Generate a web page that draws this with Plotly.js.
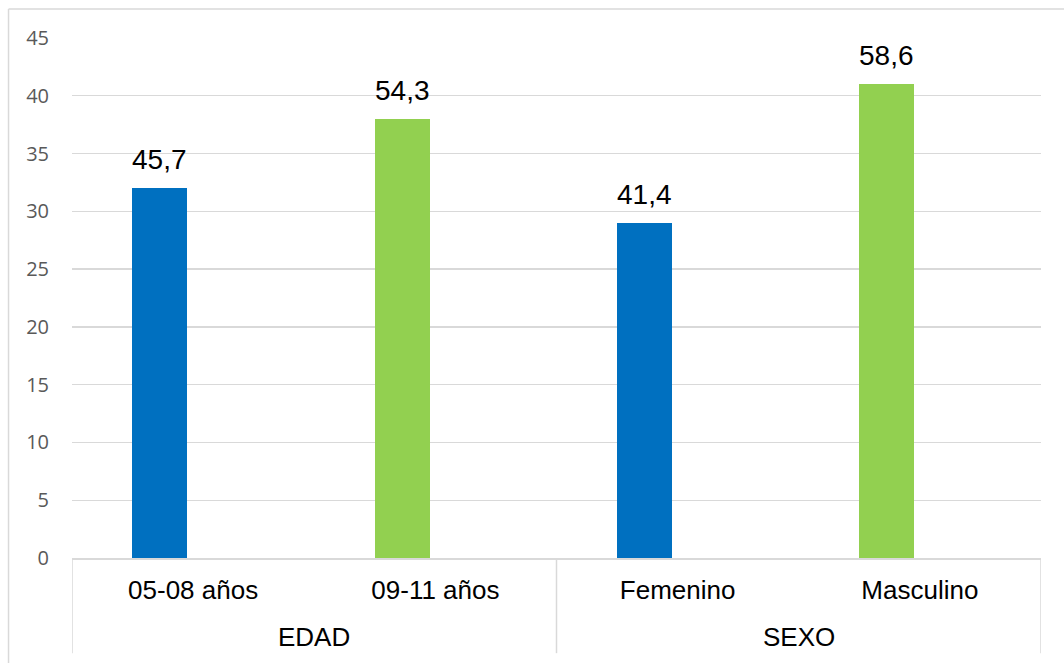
<!DOCTYPE html>
<html>
<head>
<meta charset="utf-8">
<script src="https://cdn.plot.ly/plotly-3.0.1.min.js"></script>
<style>
  html, body { margin: 0; padding: 0; background: #ffffff; }
  #chart { width: 1064px; height: 663px; }
</style>
</head>
<body>
<div id="chart"></div>
<script>
// ---- data ----
var categories = ["05-08 años", "09-11 años", "Femenino", "Masculino"];
var groups = ["EDAD", "EDAD", "SEXO", "SEXO"];
var counts = [32, 38, 29, 41];
var pctLabels = ["45,7", "54,3", "41,4", "58,6"];
var yTicks = [0, 5, 10, 15, 20, 25, 30, 35, 40, 45];

// ---- styles ----
var barColors = ["#0070C0", "#92D050", "#0070C0", "#92D050"];
var gridColor = "#d9d9d9";
var barWidth = 0.227;
var barOffset = -0.251;

var xIdx = categories.map(function (c, i) { return i; });

var trace = {
  type: "bar",
  x: xIdx,
  y: counts,
  width: barWidth,
  offset: barOffset,
  marker: { color: barColors, line: { width: 0 } },
  hoverinfo: "skip",
  showlegend: false
};

// value labels above bars
var annotations = xIdx.map(function (xi, i) {
  return {
    x: xi + barOffset + barWidth / 2,
    y: counts[i],
    xref: "x", yref: "y",
    text: pctLabels[i],
    showarrow: false,
    yanchor: "bottom",
    xanchor: "center",
    yshift: 11,
    font: { family: "Liberation Sans, Arial, sans-serif", size: 28, color: "#000000" }
  };
});

// group labels and dividers
var groupNames = [];
var groupStart = {}, groupEnd = {};
groups.forEach(function (g, i) {
  if (!(g in groupStart)) { groupNames.push(g); groupStart[g] = i; }
  groupEnd[g] = i;
});

var shapes = [];
groupNames.forEach(function (g) {
  annotations.push({
    x: (groupStart[g] + groupEnd[g]) / 2,
    y: -0.152,
    xref: "x", yref: "paper",
    text: g,
    showarrow: false,
    yanchor: "middle",
    xanchor: "center",
    font: { family: "Liberation Sans, Arial, sans-serif", size: 26, color: "#000000" }
  });
  shapes.push({
    type: "line", xref: "x", yref: "paper",
    x0: groupStart[g] - 0.5, x1: groupStart[g] - 0.5, y0: 0, y1: -0.183,
    line: { color: gridColor, width: 1.5 }
  });
});
var lastG = groupNames[groupNames.length - 1];
shapes.push({
  type: "line", xref: "x", yref: "paper",
  x0: groupEnd[lastG] + 0.5, x1: groupEnd[lastG] + 0.5, y0: 0, y1: -0.183,
  line: { color: gridColor, width: 1.5 }
});

// outer chart border (top and left visible)
shapes.push({
  type: "line", xref: "paper", yref: "paper",
  x0: -0.0655, x1: 1.2, y0: 1.0558, y1: 1.0558,
  line: { color: gridColor, width: 1.5 }
});
shapes.push({
  type: "line", xref: "paper", yref: "paper",
  x0: -0.0655, x1: -0.0655, y0: 1.0558, y1: -0.3,
  line: { color: gridColor, width: 1.5 }
});

var layout = {
  width: 1064,
  height: 663,
  margin: { l: 72, r: 23, t: 38, b: 105 },
  paper_bgcolor: "#ffffff",
  plot_bgcolor: "#ffffff",
  bargap: 0,
  xaxis: {
    range: [-0.5, categories.length - 0.5],
    tickvals: xIdx,
    ticktext: categories,
    showgrid: false,
    zeroline: false,
    showline: true,
    linecolor: gridColor,
    linewidth: 1.5,
    ticks: "",
    ticklabelstandoff: 8,
    tickfont: { family: "Liberation Sans, Arial, sans-serif", size: 26, color: "#000000" },
    fixedrange: true
  },
  yaxis: {
    range: [0, 45],
    tickvals: yTicks,
    showgrid: true,
    gridcolor: gridColor,
    gridwidth: 1.3,
    zeroline: false,
    showline: false,
    ticks: "",
    ticklabelstandoff: 22,
    tickfont: { family: "Open Sans, sans-serif", size: 20, color: "#595959" },
    fixedrange: true
  },
  annotations: annotations,
  shapes: shapes
};

Plotly.newPlot("chart", [trace], layout, { displayModeBar: false, staticPlot: true });
</script>
</body>
</html>
